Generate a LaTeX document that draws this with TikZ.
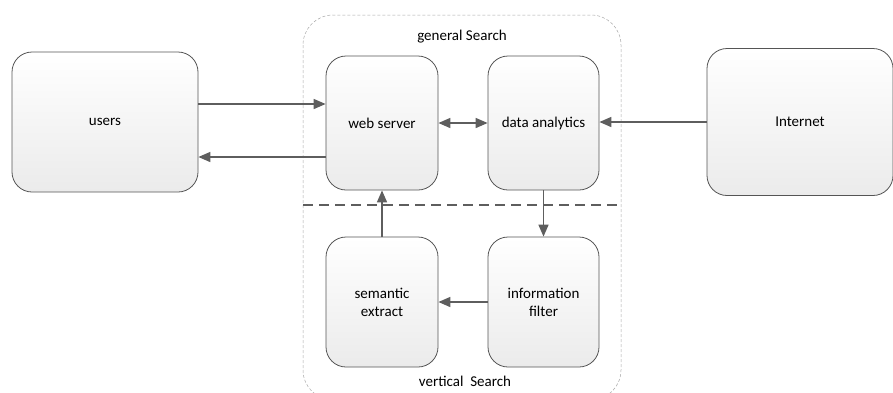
\documentclass[tikz,border=0pt]{standalone}
\usepackage{fontspec}
\setmainfont{Carlito}
\usetikzlibrary{arrows.meta}
\definecolor{edge}{HTML}{555555}
\definecolor{arrowc}{HTML}{5E5E5E}
\definecolor{boxbot}{HTML}{EBEBEB}
\tikzset{
  block/.style={draw=edge, line width=0.8pt, rounded corners=20pt,
    top color=white, bottom color=boxbot, align=center, font=\fontsize{15}{18}\selectfont},
  flow/.style={draw=arrowc, line width=1.6pt, -{Triangle[length=12pt,width=10pt]}},
  flow2/.style={draw=arrowc, line width=1.6pt, {Triangle[length=12pt,width=10pt]}-{Triangle[length=12pt,width=10pt]}},
  label/.style={font=\fontsize{15}{18}\selectfont, text=black}
}
\begin{document}
\begin{tikzpicture}[x=1pt,y=-1pt]
\useasboundingbox (0,0) rectangle (893,392);
% outer dashed frame
\draw[draw=gray!70, dash pattern=on 3pt off 2pt, line width=0.5pt, rounded corners=30pt]
  (303,15) rectangle (621,400);
\node[label] (gen) at (462,37) {general Search};
\node[label] (vert) at (465,381) {vertical\ \ Search};
% separator
\draw[draw=arrowc, line width=1.4pt, dash pattern=on 10pt off 6pt] (303,205) -- (621,205);
% blocks
\node[block, minimum width=186pt, minimum height=140pt] (users) at (105,122) {users};
\node[block, minimum width=112pt, minimum height=134pt] (web) at (382,123) {web server};
\node[block, minimum width=111pt, minimum height=134pt] (data) at (543.5,123) {data analytics};
\node[block, minimum width=112pt, minimum height=130pt] (sem) at (382,302) {semantic\\extract};
\node[block, minimum width=111pt, minimum height=130pt] (filt) at (543.5,302) {information\\filter};
\node[block, minimum width=186pt, minimum height=147pt] (inet) at (800,122) {Internet};
% connectors
\draw[flow] (users.east |- 0,104) -- (web.west |- 0,104);
\draw[flow] (web.west |- 0,157) -- (users.east |- 0,157);
\draw[flow2] (web.east) -- (data.west);
\draw[flow] (inet.west) -- (data.east |- inet.west);
\draw[flow] (data.south) -- (filt.north);
\draw[flow] (sem.north) -- (web.south);
\draw[flow] (filt.west) -- (sem.east);
\end{tikzpicture}
\end{document}
